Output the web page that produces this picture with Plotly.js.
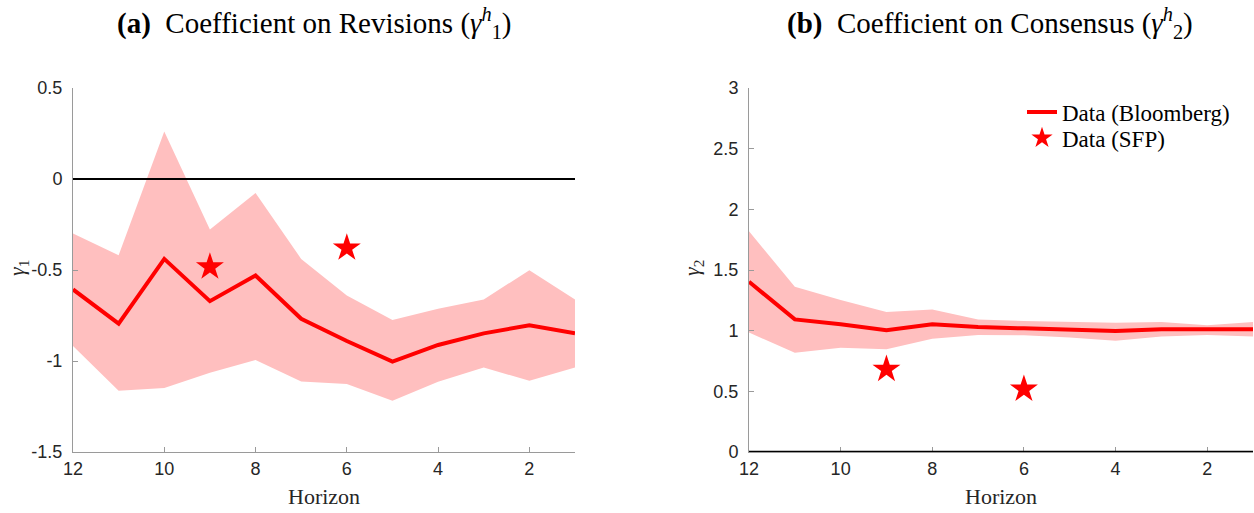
<!DOCTYPE html>
<html>
<head>
<meta charset="utf-8">
<script src="https://cdn.plot.ly/plotly-3.0.1.min.js"></script>
<style>html,body{margin:0;padding:0;background:#fff;}#chart{width:1254px;height:513px;}</style>
</head>
<body>
<div id="chart"></div>
<script>
// ---- data ----
const horizons = [12, 11, 10, 9, 8, 7, 6, 5, 4, 3, 2, 1];

// Panel (a): coefficient on revisions (gamma_1)
const gamma1Line  = [-0.607, -0.795, -0.439, -0.671, -0.530, -0.768, -0.890, -1.003, -0.912, -0.848, -0.804, -0.848];
const gamma1Upper = [-0.300, -0.419,  0.261, -0.278, -0.077, -0.439, -0.640, -0.775, -0.713, -0.662, -0.501, -0.662];
const gamma1Lower = [-0.917, -1.164, -1.149, -1.064, -0.994, -1.113, -1.127, -1.219, -1.114, -1.036, -1.109, -1.036];

// Panel (b): coefficient on consensus (gamma_2)
const gamma2Line  = [1.403, 1.093, 1.052, 1.003, 1.052, 1.030, 1.019, 1.008, 0.997, 1.011, 1.008, 1.011];
const gamma2Upper = [1.819, 1.362, 1.252, 1.153, 1.175, 1.093, 1.079, 1.074, 1.066, 1.071, 1.044, 1.071];
const gamma2Lower = [0.984, 0.819, 0.860, 0.847, 0.934, 0.964, 0.962, 0.943, 0.916, 0.951, 0.964, 0.951];

// SFP survey points
const sfpHorizons = [9, 6];
const sfpGamma1 = [-0.483, -0.379];
const sfpGamma2 = [0.682, 0.518];

// tick labels
const xTickVals = [2, 4, 6, 8, 10, 12];
const xTickText = ['2', '4', '6', '8', '10', '12'];
const y1TickVals = [-1.5, -1, -0.5, 0, 0.5];
const y1TickText = ['-1.5', '-1', '-0.5', '0', '0.5'];
const y2TickVals = [0, 0.5, 1, 1.5, 2, 2.5, 3];
const y2TickText = ['0', '0.5', '1', '1.5', '2', '2.5', '3'];

const seriesNames = ['Data (Bloomberg)', 'Data (SFP)'];

// ---- styling ----
const RED = 'rgb(255,0,0)';
const BAND = 'rgb(255,191,191)';
const SERIF = '"Liberation Serif", "DejaVu Serif", serif';
const SANS = '"Liberation Sans", Arial, sans-serif';

function band(x, up, lo, xa, ya) {
  return {
    x: x.concat(x.slice().reverse()),
    y: up.concat(lo.slice().reverse()),
    xaxis: xa, yaxis: ya,
    type: 'scatter', mode: 'lines', fill: 'toself',
    fillcolor: BAND, line: {width: 0, color: BAND},
    hoverinfo: 'skip', showlegend: false
  };
}

const traces = [
  band(horizons, gamma1Upper, gamma1Lower, 'x', 'y'),
  {x: horizons, y: gamma1Line, xaxis: 'x', yaxis: 'y', type: 'scatter', mode: 'lines',
   line: {color: RED, width: 4}, showlegend: false},
  {x: sfpHorizons, y: sfpGamma1, xaxis: 'x', yaxis: 'y', type: 'scatter', mode: 'markers',
   marker: {symbol: 'star', size: 21, color: RED}, showlegend: false},

  band(horizons, gamma2Upper, gamma2Lower, 'x2', 'y2'),
  {x: horizons, y: gamma2Line, xaxis: 'x2', yaxis: 'y2', type: 'scatter', mode: 'lines',
   name: seriesNames[0], line: {color: RED, width: 4}, showlegend: true, legend: 'legend'},
  {x: sfpHorizons, y: sfpGamma2, xaxis: 'x2', yaxis: 'y2', type: 'scatter', mode: 'markers',
   name: seriesNames[1], marker: {symbol: 'star', size: 21, color: RED}, showlegend: true,
   legend: 'legend2'}
];

const axisCommon = {
  showgrid: false, zeroline: false, showline: true,
  linecolor: '#9a9a9a', linewidth: 1,
  ticks: 'inside', ticklen: 5, tickcolor: '#9a9a9a', tickwidth: 1,
  tickfont: {family: SANS, size: 18, color: '#262626'},
  fixedrange: true
};

const xCommon = Object.assign({}, axisCommon, {
  range: [12, 1], tickmode: 'array', tickvals: xTickVals, ticktext: xTickText
});

const W = 1254, H = 513;
const px = v => v / W;
const py = v => (H - v) / H;

const legendCommon = {
  xanchor: 'left', yanchor: 'middle',
  bgcolor: 'rgba(255,255,255,0)', borderwidth: 0,
  font: {family: SERIF, size: 23, color: '#000'},
  itemwidth: 30
};

const layout = {
  width: W, height: H,
  margin: {l: 0, r: 0, t: 0, b: 0},
  paper_bgcolor: '#fff', plot_bgcolor: '#fff',
  showlegend: true,
  xaxis: Object.assign({}, xCommon, {domain: [px(73), px(575)], anchor: 'y'}),
  yaxis: Object.assign({}, axisCommon, {domain: [py(452), py(88)], anchor: 'x',
    range: [-1.5, 0.5], tickmode: 'array', tickvals: y1TickVals, ticktext: y1TickText,
    ticklabelstandoff: 6}),
  xaxis2: Object.assign({}, xCommon, {domain: [px(749), px(1253)], anchor: 'y2'}),
  yaxis2: Object.assign({}, axisCommon, {domain: [py(452), py(88)], anchor: 'x2',
    range: [0, 3], tickmode: 'array', tickvals: y2TickVals, ticktext: y2TickText,
    ticklabelstandoff: 6}),
  shapes: [
    {type: 'line', xref: 'x domain', yref: 'y', x0: 0, x1: 1, y0: 0, y1: 0,
     line: {color: '#000', width: 2}},
    {type: 'line', xref: 'x2 domain', yref: 'y2', x0: 0, x1: 1, y0: 0, y1: 0,
     line: {color: '#000', width: 2.5}}
  ],
  legend: Object.assign({}, legendCommon, {x: px(1022), y: py(112)}),
  legend2: Object.assign({}, legendCommon, {x: px(1022), y: py(138)}),
  annotations: [
    {text: '<b>(a)</b>  Coefficient on Revisions (<i>γ</i><sup><i>h</i></sup><sub>1</sub>)',
     xref: 'paper', yref: 'paper', x: px(314), y: py(23), xanchor: 'center', yanchor: 'middle',
     showarrow: false, font: {family: SERIF, size: 29, color: '#000'}},
    {text: '<b>(b)</b>  Coefficient on Consensus (<i>γ</i><sup><i>h</i></sup><sub>2</sub>)',
     xref: 'paper', yref: 'paper', x: px(990), y: py(23), xanchor: 'center', yanchor: 'middle',
     showarrow: false, font: {family: SERIF, size: 29, color: '#000'}},
    {text: 'Horizon', xref: 'paper', yref: 'paper', x: px(324), y: py(496),
     xanchor: 'center', yanchor: 'middle', showarrow: false,
     font: {family: SERIF, size: 22, color: '#262626'}},
    {text: 'Horizon', xref: 'paper', yref: 'paper', x: px(1001), y: py(496),
     xanchor: 'center', yanchor: 'middle', showarrow: false,
     font: {family: SERIF, size: 22, color: '#262626'}},
    {text: '<i>γ</i><sub>1</sub>', xref: 'paper', yref: 'paper', x: px(18), y: py(268),
     xanchor: 'center', yanchor: 'middle', textangle: -90, showarrow: false,
     font: {family: SERIF, size: 22, color: '#262626'}},
    {text: '<i>γ</i><sub>2</sub>', xref: 'paper', yref: 'paper', x: px(693), y: py(268),
     xanchor: 'center', yanchor: 'middle', textangle: -90, showarrow: false,
     font: {family: SERIF, size: 22, color: '#262626'}}
  ]
};

Plotly.newPlot('chart', traces, layout, {staticPlot: true, displayModeBar: false});
</script>
</body>
</html>
